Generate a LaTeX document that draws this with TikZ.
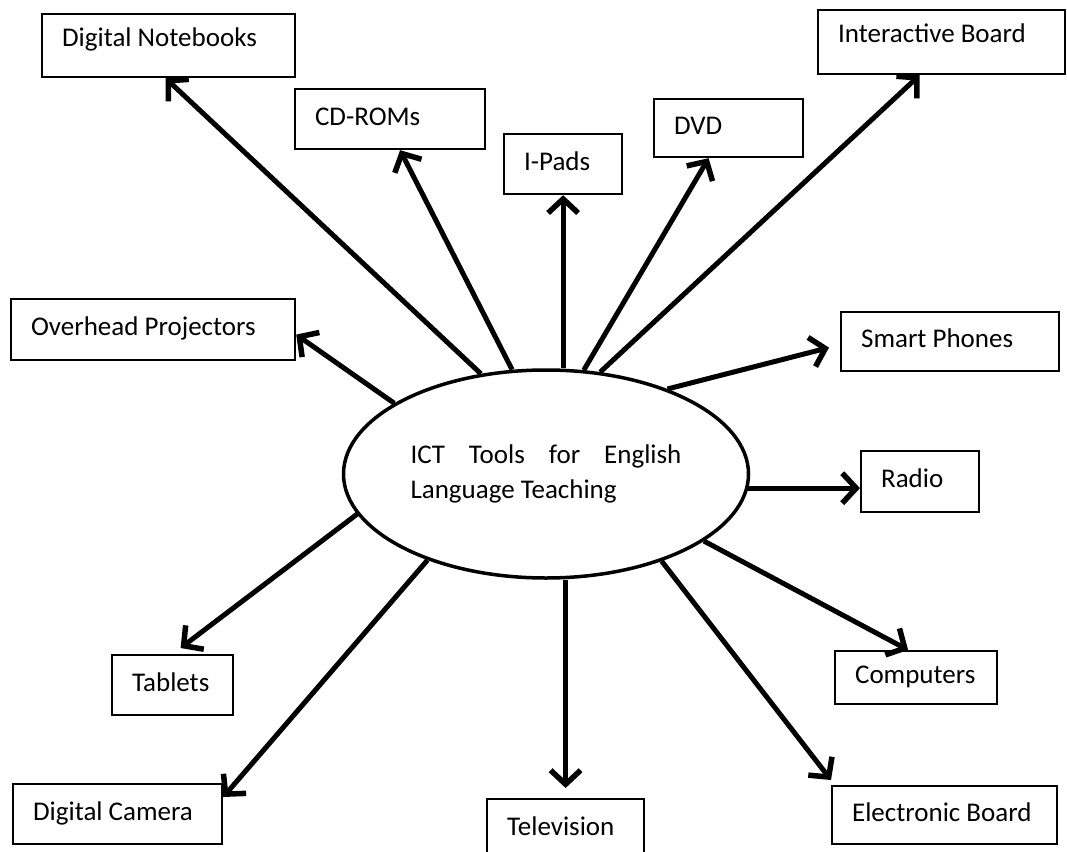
\documentclass[tikz,border=0pt]{standalone}
\usepackage{fontspec}
\setmainfont{Carlito}
\usetikzlibrary{arrows.meta,shapes.geometric}

\begin{document}
\begin{tikzpicture}[x=1pt,y=-1pt,
  >={Straight Barb[length=14pt,width=30pt,line width=5.5pt]},
  tool/.style={draw,line width=2.2pt,anchor=north west,align=flush left,
    inner xsep=20pt,inner ysep=0pt,text height=18pt,text depth=6pt,
    font=\fontsize{27}{33}\selectfont},
  high/.style={text depth=17pt},
  hub/.style={draw,ellipse,line width=3.5pt,minimum width=405pt,
    minimum height=208pt,inner sep=0pt,text width=271pt,align=flush left,
    font=\fontsize{27}{35}\selectfont},
  link/.style={->,line width=5pt}]
  \fill[white] (0,0) rectangle (1067,851);
  \useasboundingbox (0,0) rectangle (1067,851);
  \node[hub] (ict) at (546,474) {ICT\hfill Tools\hfill for\hfill English\\Language Teaching};
  \node[tool,high,text width=213pt,minimum height=63pt] (dn)  at ( 41, 13) {Digital Notebooks};
  \node[tool,text width=150pt,minimum height=60pt]      (cd)  at (294, 88) {CD-ROMs};
  \node[tool,text width= 78pt,minimum height=60pt]      (ip)  at (503,133) {I-Pads};
  \node[tool,text width=109pt,minimum height=58pt]      (dvd) at (653, 98) {DVD};
  \node[tool,high,text width=207pt,minimum height=64pt] (ib)  at (817,  9) {Interactive Board};
  \node[tool,text width=244pt,minimum height=61pt]      (op)  at ( 10,298) {Overhead Projectors};
  \node[tool,text width=178pt,minimum height=59pt]      (sp)  at (840,311) {Smart Phones};
  \node[tool,text width= 78pt,minimum height=61pt]      (rd)  at (860,450) {Radio};
  \node[tool,text width= 81pt,minimum height=60pt]      (tb)  at (111,654) {Tablets};
  \node[tool,text width=122pt,minimum height=53pt]      (cp)  at (834,650) {Computers};
  \node[tool,text width=169pt,minimum height=60pt]      (cam) at ( 12,783) {Digital Camera};
  \node[tool,text width=117pt,minimum height=60pt]      (tv)  at (486,798) {Television};
  \node[tool,text width=185pt,minimum height=58pt]      (eb)  at (831,785) {Electronic Board};
  \draw[link] (ict.123)              -- ([xshift=-3pt]dn.south);
  \draw[link] (ict.108)              -- ([xshift=10pt]cd.south);
  \draw[link] (ict.north -| ip.south) -- (ip.south);
  \draw[link] (ict.70)               -- ([xshift=-20pt]dvd.south);
  \draw[link] (ict.62)               -- ([xshift=-22pt]ib.south);
  \draw[link] (ict.155)              -- ([yshift=-5pt]op.east);
  \draw[link] (ict.35)               -- ([xshift=-11pt,yshift=-6pt]sp.west);
  \draw[link] (ict.-4)               -- (ict.-4 -| rd.west);
  \draw[link] (ict.-23.5)            -- ([xshift=-8pt]cp.north);
  \draw[link] (ict.-37.6)            -- ([yshift=5pt]eb.north west);
  \draw[link] (ict.south -| tv.north) -- ([yshift=10pt]tv.north);
  \draw[link] (ict.216.5)            -- ([yshift=-14pt]cam.north east);
  \draw[link] (ict.192.3)            -- ([xshift=8pt,yshift=6pt]tb.north);
\end{tikzpicture}
\end{document}
